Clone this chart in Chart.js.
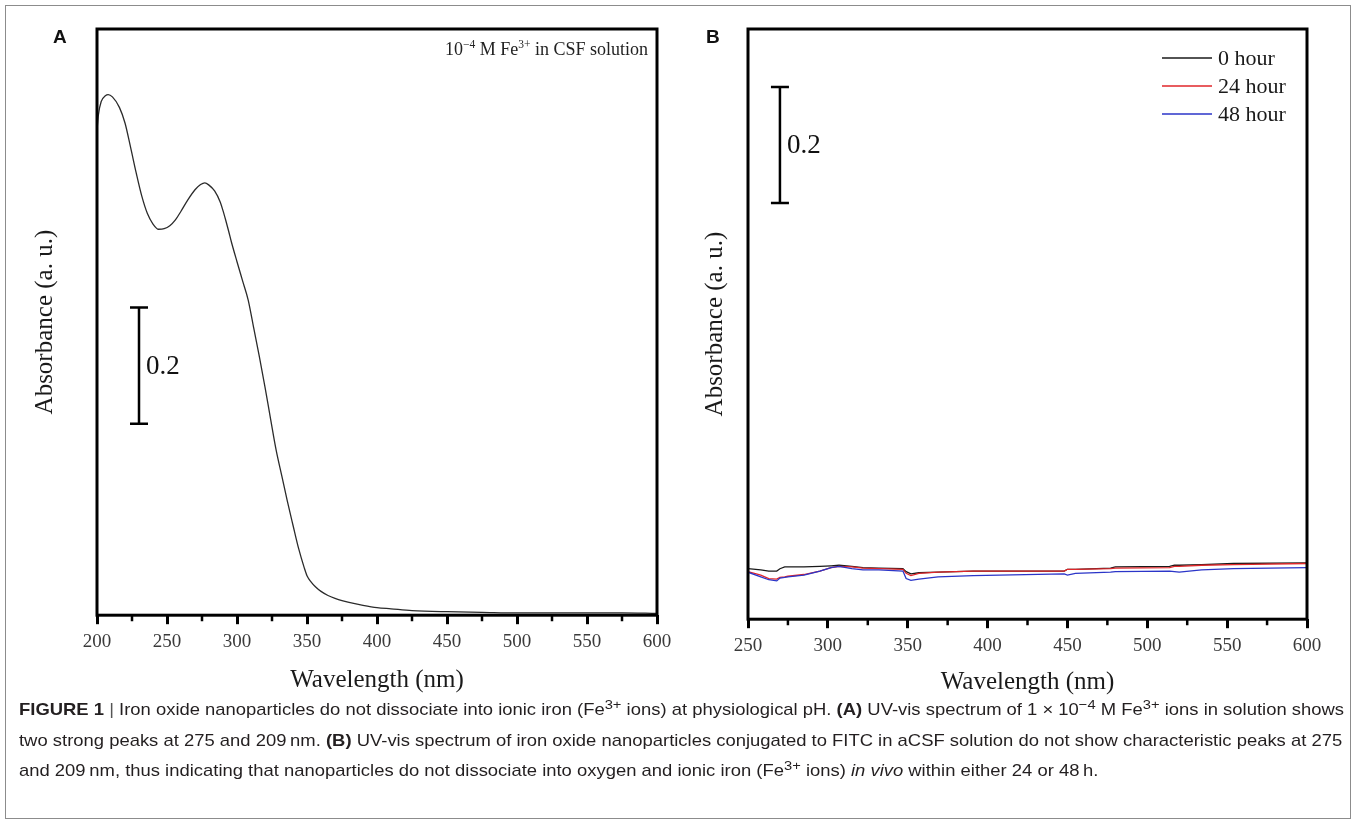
<!DOCTYPE html>
<html>
<head>
<meta charset="utf-8">
<title>Figure 1</title>
<script src="https://cdn.jsdelivr.net/npm/chart.js@4.4.1/dist/chart.umd.min.js"></script>
<style>
  html, body { margin: 0; padding: 0; background: #fff; }
  #figure { position: relative; width: 1357px; height: 823px; overflow: hidden; }
  #frame { position: absolute; left: 5px; top: 5px; width: 1346px; height: 814px; border: 1px solid #8c8c8c; box-sizing: border-box; }
  #chartA { position: absolute; left: 0; top: 0; }
  #chartB { position: absolute; left: 680px; top: 0; }
  .tag { position: absolute; font: bold 19px "Liberation Sans", Arial, sans-serif; color: #111; line-height: 20px; }
  #caption { position: absolute; left: 19px; top: 695px; font-family: "Liberation Sans", Arial, sans-serif; font-size: 17px; color: #231f20; }
  #caption .line { white-space: nowrap; height: 30.5px; line-height: 30.5px; }
  #caption .line > span { display: inline-block; transform-origin: 0 50%; }
  #caption sup { font-size: 0.8em; line-height: 0; vertical-align: 0.45em; }
  #caption .bar { color: #555; }
</style>
</head>
<body>
<div id="figure">
  <div id="frame"></div>
  <canvas id="chartA" width="700" height="700"></canvas>
  <canvas id="chartB" width="677" height="700"></canvas>
  <div class="tag" style="left:53px; top:27px;">A</div>
  <div class="tag" style="left:706px; top:27px;">B</div>
  <div id="caption">
    <div class="line"><span><b>FIGURE 1</b> <span class="bar">|</span> Iron oxide nanoparticles do not dissociate into ionic iron (Fe<sup>3+</sup> ions) at physiological pH. <b>(A)</b> UV-vis spectrum of 1 × 10<sup>−4</sup> M Fe<sup>3+</sup> ions in solution shows</span></div>
    <div class="line"><span>two strong peaks at 275 and 209&thinsp;nm. <b>(B)</b> UV-vis spectrum of iron oxide nanoparticles conjugated to FITC in aCSF solution do not show characteristic peaks at 275</span></div>
    <div class="line"><span>and 209&thinsp;nm, thus indicating that nanoparticles do not dissociate into oxygen and ionic iron (Fe<sup>3+</sup> ions) <i>in vivo</i> within either 24 or 48&thinsp;h.</span></div>
  </div>
</div>

<script>
// Panel A: 10^-4 M Fe3+ in CSF solution
var wavelengthA = [200, 201, 203, 206, 208, 211, 216, 220, 224, 228, 232, 236, 240, 244, 248, 252, 256, 260, 265, 270,
                   274, 277, 280, 284, 288, 290, 292, 294, 296, 300, 304, 308, 312, 316, 320, 324, 328, 332, 336, 340,
                   344, 348, 350, 353, 356, 360, 365, 370, 375, 380, 390, 400, 410, 425, 450, 475, 500, 530, 550, 575, 600];
var absorbanceA = [0.836, 0.862, 0.885, 0.895, 0.897, 0.893, 0.875, 0.848, 0.806, 0.762, 0.722, 0.692, 0.674, 0.665, 0.666, 0.671, 0.681, 0.696, 0.716, 0.733,
                   0.742, 0.745, 0.741, 0.731, 0.712, 0.697, 0.680, 0.662, 0.643, 0.609, 0.576, 0.543, 0.494, 0.445, 0.393, 0.338, 0.284, 0.240, 0.196, 0.155,
                   0.115, 0.082, 0.068, 0.057, 0.049, 0.041, 0.034, 0.029, 0.025, 0.022, 0.017, 0.013, 0.011, 0.008, 0.006, 0.005, 0.004, 0.004, 0.004, 0.004, 0.003];

// Panel B: nanoparticles in aCSF at 0, 24 and 48 hours
var wavelengthB = [250, 258, 263, 268, 270, 273, 275, 285, 295, 302, 307, 315, 322, 332, 347, 349, 352, 357, 369, 391,
                   448, 450, 455, 477, 480, 514, 517, 520, 534, 554, 600];
var hour0 =  [0.087, 0.085, 0.083, 0.083, 0.087, 0.090, 0.090, 0.090, 0.091, 0.092, 0.093, 0.091, 0.089, 0.088, 0.087, 0.082, 0.078, 0.080, 0.081, 0.083,
              0.083, 0.086, 0.086, 0.088, 0.090, 0.091, 0.093, 0.093, 0.094, 0.096, 0.097];
var hour24 = [0.082, 0.076, 0.070, 0.069, 0.072, 0.073, 0.074, 0.077, 0.083, 0.089, 0.091, 0.090, 0.088, 0.087, 0.086, 0.079, 0.075, 0.079, 0.081, 0.083,
              0.083, 0.086, 0.086, 0.087, 0.088, 0.089, 0.091, 0.091, 0.093, 0.094, 0.096];
var hour48 = [0.081, 0.073, 0.068, 0.066, 0.071, 0.072, 0.073, 0.076, 0.083, 0.089, 0.091, 0.087, 0.085, 0.085, 0.083, 0.070, 0.067, 0.069, 0.073, 0.075,
              0.078, 0.076, 0.079, 0.081, 0.082, 0.083, 0.082, 0.081, 0.085, 0.087, 0.089];
var seriesLabelsB = ['0 hour', '24 hour', '48 hour'];

var SERIF = '"Liberation Serif", "Times New Roman", serif';

function points(xs, ys) {
    return xs.map(function(x, i) { return {x: x, y: ys[i]}; });
}

// heavy box round the plot, plus short minor ticks between the labelled ones
var boxFrame = {
    id: 'boxFrame',
    afterDraw: function(chart) {
        var ctx = chart.ctx, a = chart.chartArea, x = chart.scales.x;
        ctx.save();
        ctx.strokeStyle = '#000';
        ctx.lineWidth = 3;
        ctx.strokeRect(a.left, a.top, a.right - a.left, a.bottom - a.top);
        ctx.lineWidth = 2.5;
        ctx.beginPath();
        for (var i = 0; i < x.ticks.length - 1; i++) {
            var px = x.getPixelForValue((x.ticks[i].value + x.ticks[i + 1].value) / 2);
            ctx.moveTo(px, a.bottom);
            ctx.lineTo(px, a.bottom + 6);
        }
        ctx.stroke();
        ctx.restore();
    }
};

// vertical "0.2" absorbance scale bar, placed in data units
var scaleBar = {
    id: 'scaleBar',
    afterDraw: function(chart, args, opts) {
        if (opts.at === undefined) return;
        var ctx = chart.ctx, x = chart.scales.x, y = chart.scales.y;
        var px = x.getPixelForValue(opts.at);
        var y0 = y.getPixelForValue(opts.from), y1 = y.getPixelForValue(opts.to);
        ctx.save();
        ctx.strokeStyle = '#000';
        ctx.lineWidth = 2.5;
        ctx.beginPath();
        ctx.moveTo(px, y0); ctx.lineTo(px, y1);
        ctx.moveTo(px - 9, y0); ctx.lineTo(px + 9, y0);
        ctx.moveTo(px - 9, y1); ctx.lineTo(px + 9, y1);
        ctx.stroke();
        ctx.fillStyle = '#111';
        ctx.font = '27px ' + SERIF;
        ctx.textBaseline = 'middle';
        ctx.fillText(opts.text, px + 7, (y0 + y1) / 2 + 1);
        ctx.restore();
    }
};

// top-right note with superscripts
var cornerNote = {
    id: 'cornerNote',
    afterDraw: function(chart, args, opts) {
        if (!opts.parts) return;
        var ctx = chart.ctx, a = chart.chartArea;
        var big = '18px ' + SERIF, small = '11.5px ' + SERIF;
        ctx.save();
        ctx.fillStyle = '#222';
        ctx.textBaseline = 'alphabetic';
        var total = 0;
        opts.parts.forEach(function(p) { ctx.font = p[1] ? small : big; total += ctx.measureText(p[0]).width; });
        var cx = a.right - 9 - total, base = a.top + 26;
        opts.parts.forEach(function(p) {
            ctx.font = p[1] ? small : big;
            ctx.fillText(p[0], cx, p[1] ? base - 7.5 : base);
            cx += ctx.measureText(p[0]).width;
        });
        ctx.restore();
    }
};

// legend in the top-right corner of the plot
var cornerLegend = {
    id: 'cornerLegend',
    afterDraw: function(chart, args, opts) {
        if (!opts.show) return;
        var ctx = chart.ctx, a = chart.chartArea;
        ctx.save();
        ctx.font = '22px ' + SERIF;
        ctx.textBaseline = 'middle';
        chart.data.datasets.forEach(function(ds, i) {
            var yy = a.top + 29 + i * 28;
            ctx.strokeStyle = ds.borderColor;
            ctx.lineWidth = 1.5;
            ctx.beginPath();
            ctx.moveTo(a.right - 145, yy);
            ctx.lineTo(a.right - 95, yy);
            ctx.stroke();
            ctx.fillStyle = '#1a1a1a';
            ctx.fillText(ds.label, a.right - 89, yy + 1);
        });
        ctx.restore();
    }
};

function xAxis(min, max, titlePadTop) {
    return {
        type: 'linear', min: min, max: max,
        ticks: { stepSize: 50, padding: 6, color: '#3a3a3a', font: { family: SERIF, size: 19 } },
        grid: { drawOnChartArea: false, tickLength: 9, tickWidth: 3, tickColor: '#000' },
        border: { display: false },
        title: { display: true, text: 'Wavelength (nm)', color: '#1a1a1a',
                 font: { family: SERIF, size: 25 }, padding: { top: titlePadTop, bottom: 0 } }
    };
}

function yAxis(max, padBottom) {
    return {
        min: 0, max: max,
        ticks: { display: false },
        grid: { display: false, drawTicks: false },
        border: { display: false },
        title: { display: true, text: 'Absorbance (a. u.)', color: '#1a1a1a',
                 font: { family: SERIF, size: 25 }, padding: { top: 3, bottom: padBottom } }
    };
}

var ctxA = document.getElementById('chartA').getContext('2d');
var chartA = new Chart(ctxA, {
    type: 'line',
    data: {
        datasets: [{
            label: 'Fe3+ in CSF',
            data: points(wavelengthA, absorbanceA),
            borderColor: '#2b2b2b',
            borderWidth: 1.3,
            pointRadius: 0,
            cubicInterpolationMode: 'monotone'
        }]
    },
    options: {
        responsive: false,
        animation: false,
        layout: { padding: { left: 27, right: 43, top: 29, bottom: 5 } },
        scales: { x: xAxis(200, 600, 6), y: yAxis(1.01, 37) },
        plugins: {
            legend: { display: false },
            tooltip: { enabled: false },
            scaleBar: { at: 230, from: 0.33, to: 0.53, text: '0.2' },
            cornerNote: { parts: [['10', false], ['\u22124', true], [' M Fe', false], ['3+', true], [' in CSF solution', false]] }
        }
    },
    plugins: [boxFrame, scaleBar, cornerNote]
});

var ctxB = document.getElementById('chartB').getContext('2d');
var chartB = new Chart(ctxB, {
    type: 'line',
    data: {
        datasets: [{
            label: seriesLabelsB[0],
            data: points(wavelengthB, hour0),
            borderColor: '#1a1a1a',
            borderWidth: 1.3,
            pointRadius: 0,
            order: 2
        }, {
            label: seriesLabelsB[1],
            data: points(wavelengthB, hour24),
            borderColor: '#e0262a',
            borderWidth: 1.3,
            pointRadius: 0,
            order: 1
        }, {
            label: seriesLabelsB[2],
            data: points(wavelengthB, hour48),
            borderColor: '#2b35c8',
            borderWidth: 1.3,
            pointRadius: 0,
            order: 0
        }]
    },
    options: {
        responsive: false,
        animation: false,
        layout: { padding: { left: 17, right: 50, top: 29, bottom: 3 } },
        scales: { x: xAxis(250, 600, 4), y: yAxis(1.017, 18) },
        plugins: {
            legend: { display: false },
            tooltip: { enabled: false },
            scaleBar: { at: 270, from: 0.717, to: 0.917, text: '0.2' },
            cornerLegend: { show: true }
        }
    },
    plugins: [boxFrame, scaleBar, cornerLegend]
});

// squeeze the caption so the first line spans the frame like the printed one
var captionLines = document.querySelectorAll('#caption .line > span');
var squeeze = 1325 / captionLines[0].getBoundingClientRect().width;
captionLines.forEach(function(s) { s.style.transform = 'scaleX(' + squeeze + ')'; });
</script>
</body>
</html>
